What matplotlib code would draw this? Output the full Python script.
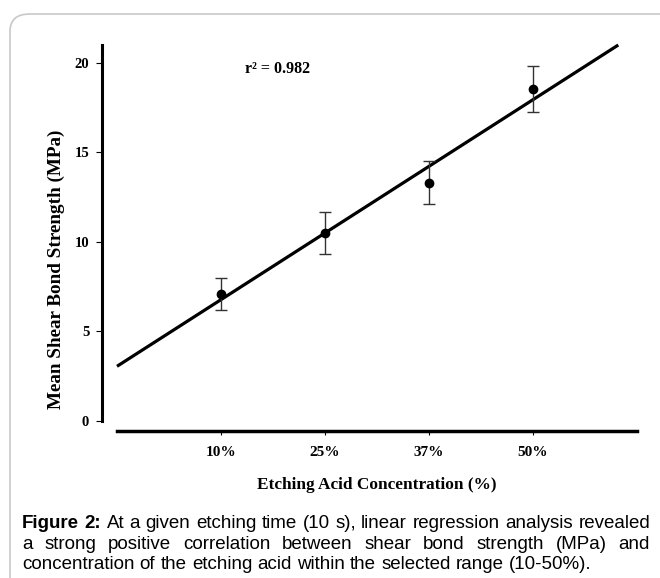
import numpy as np
import matplotlib
matplotlib.use('Agg')
import matplotlib.pyplot as plt
from matplotlib.patches import FancyBboxPatch
from matplotlib.font_manager import FontProperties

# data
positions = [1, 2, 3, 4]
conc_labels = ['10%', '25%', '37%', '50%']
mean_sbs = [7.08, 10.5, 13.32, 18.55]
sbs_err = [0.9, 1.15, 1.2, 1.27]
fit_range = [0.0, 4.82]
r2_text = 'r² = 0.982'

caption_lines = [
    'At a given etching time (10 s), linear regression analysis revealed',
    'a strong positive correlation between shear bond strength (MPa) and',
    'concentration of the etching acid within the selected range (10-50%).',
]

W, H = 660, 578
fig = plt.figure(figsize=(W / 100, H / 100), dpi=100)

# rounded frame round the figure
frame = FancyBboxPatch((10 / W, -20 / H), 700 / W, (H - 14 + 20) / H,
                       boxstyle='round,pad=0,rounding_size=0.03',
                       transform=fig.transFigure, facecolor='none',
                       edgecolor='#c8c8c8', linewidth=1.2, zorder=-1)
fig.patches.append(frame)

ax = fig.add_axes([117 / W, (H - 421) / H, 520 / W, 376 / H])
ax.set_facecolor('none')

# regression line
coef = np.polyfit(positions, mean_sbs, 1)
xs = np.array(fit_range)
ax.plot(xs, np.polyval(coef, xs), color='black', linewidth=2.3, zorder=2,
        solid_capstyle='butt', clip_on=False)

ax.errorbar(positions, mean_sbs, yerr=sbs_err, fmt='o', color='black',
            markersize=6, ecolor='#333333', elinewidth=1.0, capsize=4,
            capthick=1.0, zorder=3)

ax.set_xlim(0, 5)
ax.set_ylim(0, 21)
ax.set_xticks(positions)
ax.set_xticklabels(conc_labels)
ax.set_yticks([0, 5, 10, 15, 20])

for s in ['top', 'right']:
    ax.spines[s].set_visible(False)
ax.spines['left'].set_position(('outward', 11))
ax.spines['left'].set_linewidth(2.2)
ax.spines['left'].set_bounds(0, 21)
ax.spines['bottom'].set_position(('outward', 7))
ax.spines['bottom'].set_linewidth(2.5)

ax.tick_params(axis='y', direction='out', length=4, width=0.8, pad=5)
ax.tick_params(axis='x', direction='out', length=3, width=0.8, pad=8)
for lab in ax.get_yticklabels():
    lab.set_fontproperties(FontProperties(family='Liberation Serif',
                                          weight='bold', size=10.5))
for lab in ax.get_xticklabels():
    lab.set_fontproperties(FontProperties(family='Liberation Serif',
                                          weight='bold', size=11))

ax.set_xlabel('Etching Acid Concentration (%)',
              fontdict={'family': 'Liberation Serif', 'weight': 'bold', 'size': 12.4})
ax.set_ylabel('Mean Shear Bond Strength (MPa)',
              fontdict={'family': 'Liberation Serif', 'weight': 'bold', 'size': 13.8})
ax.xaxis.set_label_coords(0.5, -0.15)
ax.yaxis.set_label_coords(-0.10, 0.404)

ax.text(1.54, 19.67, r2_text, ha='center', va='center',
        family='Liberation Serif', weight='bold', size=11.5)

# caption, justified between two edges
renderer = fig.canvas.get_renderer()
left_px, right_px = 22, 650
base_px = [528, 549, 569]
cfont = dict(family='Liberation Sans', size=13.5)


def width_px(s, **kw):
    t = fig.text(0, 0, s, **kw)
    w = t.get_window_extent(renderer).width
    t.remove()
    return w


for i, line in enumerate(caption_lines):
    y = (H - base_px[i]) / H
    words = [(w, 'normal') for w in line.split()]
    if i == 0:
        words = [('Figure', 'bold'), ('2:', 'bold')] + words
    widths = [width_px(w, weight=wt, **cfont) for w, wt in words]
    if i < len(caption_lines) - 1:
        gap = (right_px - left_px - sum(widths)) / (len(words) - 1)
    else:
        gap = width_px('a b', **cfont) - width_px('ab', **cfont)
    x = left_px
    for (w, wt), wd in zip(words, widths):
        fig.text(x / W, y, w, weight=wt, va='baseline', ha='left', **cfont)
        x += wd + gap

fig.savefig('out.png', dpi=100)
